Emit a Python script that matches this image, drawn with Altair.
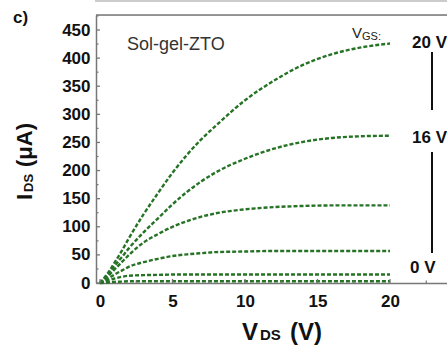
import altair as alt
import pandas as pd

# ---- data ----
vds = [0, 0.5, 1, 1.5, 2, 3, 4, 5, 6, 7, 8, 10, 12, 14, 16, 18, 20]
i_20 = [0, 16, 36, 57, 80, 122, 160, 196, 228, 256, 280, 325, 360, 388, 407, 419, 426]
i_16 = [0, 13, 30, 46, 62, 90, 115, 140, 162, 181, 197, 221, 239, 251, 258, 261, 262]
i_12 = [0, 11, 24, 37, 50, 72, 87, 100, 110, 118, 124, 131, 135, 137, 138, 138, 138]
i_8 = [0, 7, 15, 22, 29, 37, 43, 48, 51, 53, 55, 56, 57, 57, 57, 57, 57]
i_4 = [0, 4, 8, 11, 13, 14, 14.5, 15, 15, 15, 15, 15, 15, 15, 15, 15, 15]
i_0 = [0, 1, 2, 2.5, 3, 3, 3, 3, 3, 3, 3, 3, 3, 3, 3, 3, 3]
vgs_labels = ["20 V", "16 V", "12 V", "8 V", "4 V", "0 V"]
series = [i_20, i_16, i_12, i_8, i_4, i_0]

x_ticks = [0, 5, 10, 15, 20]
x_minor = [2.5, 7.5, 12.5, 17.5, 22.5]
y_ticks = [0, 50, 100, 150, 200, 250, 300, 350, 400, 450]
y_minor = [25, 75, 125, 175, 225, 275, 325, 375, 425, 475]

rows = []
for lab, ys in zip(vgs_labels, series):
    for x, y in zip(vds, ys):
        rows.append({"vds": x, "ids": y, "vgs": lab})
df = pd.DataFrame(rows)

W, H = 351, 268
FONT = "Liberation Sans"
GRAY = "#777777"
GREEN = "#267326"

xs = alt.Scale(domain=[-0.276, 23.93], nice=False, zero=False)
ys_ = alt.Scale(domain=[0, 476.7], nice=False, zero=False)

xaxis = alt.Axis(
    values=x_ticks, title=None, ticks=False, domainColor=GRAY, domainWidth=1.5,
    labelFont=FONT, labelFontSize=17, labelFontWeight="bold", labelColor="#111",
    labelPadding=10, grid=False, labelOverlap=False)
yaxis = alt.Axis(
    values=y_ticks, title=None, ticks=False, domainColor=GRAY, domainWidth=1.5,
    labelFont=FONT, labelFontSize=17, labelFontWeight="bold", labelColor="#111",
    labelPadding=6, grid=False, labelOverlap=False)

lines = alt.Chart(df).mark_line(
    color=GREEN, strokeWidth=2.4, strokeDash=[4, 2], interpolate="monotone"
).encode(
    x=alt.X("vds:Q", scale=xs, axis=xaxis, title=None),
    y=alt.Y("ids:Q", scale=ys_, axis=yaxis, title=None),
    detail="vgs:N",
)

xmaj = alt.Chart(pd.DataFrame({"v": x_ticks})).mark_rule(color=GRAY, strokeWidth=1.3).encode(
    x=alt.X("v:Q", scale=xs, axis=xaxis, title=None), y=alt.value(H), y2=alt.value(H - 4))
xmin = alt.Chart(pd.DataFrame({"v": x_minor})).mark_rule(color=GRAY, strokeWidth=1.2).encode(
    x=alt.X("v:Q", scale=xs, axis=xaxis, title=None), y=alt.value(H), y2=alt.value(H - 2.5))
ymaj = alt.Chart(pd.DataFrame({"v": y_ticks})).mark_rule(color=GRAY, strokeWidth=1.3).encode(
    y=alt.Y("v:Q", scale=ys_, axis=yaxis, title=None), x=alt.value(0), x2=alt.value(4))
ymin = alt.Chart(pd.DataFrame({"v": y_minor})).mark_rule(color=GRAY, strokeWidth=1.2).encode(
    y=alt.Y("v:Q", scale=ys_, axis=yaxis, title=None), x=alt.value(0), x2=alt.value(2.5))

top_line = alt.Chart(pd.DataFrame({"a": [0]})).mark_rule(color=GRAY, strokeWidth=1.5).encode(
    x=alt.value(0), x2=alt.value(W), y=alt.value(0))
outer_line = alt.Chart(pd.DataFrame({"a": [0]})).mark_rule(color="#999999", strokeWidth=1).encode(
    x=alt.value(-1), x2=alt.value(W), y=alt.value(-14))

bar1 = alt.Chart(pd.DataFrame({"a": [0]})).mark_rule(color="#111", strokeWidth=2).encode(
    x=alt.value(336), y=alt.value(37), y2=alt.value(95))
bar2 = alt.Chart(pd.DataFrame({"a": [0]})).mark_rule(color="#111", strokeWidth=2).encode(
    x=alt.value(336), y=alt.value(137), y2=alt.value(238))


def txt(t, x, y, size, weight="bold", color="#111", angle=0):
    return alt.Chart(pd.DataFrame({"t": [t]})).mark_text(
        font=FONT, fontSize=size, fontWeight=weight, color=color, align="left",
        baseline="alphabetic", angle=angle
    ).encode(text="t:N", x=alt.value(x), y=alt.value(y))


texts = [
    txt("20 V", 316, 33, 17),
    txt("16 V", 316, 128, 17),
    txt("0 V", 314, 258, 17),
    txt("V", 256, 23, 15, weight="normal", color="#222"),
    txt("GS:", 266, 25, 11, weight="normal", color="#222"),
    txt("Sol-gel-ZTO", 31, 35, 18, weight="normal", color="#333"),
    txt("c)", -83, 8, 17),
    txt("V", 146, 325, 24),
    txt("DS", 164, 325, 15),
    txt("(V)", 194, 325, 24),
    txt("I", -64, 185, 22, angle=270),
    txt("DS", -63, 177, 13, angle=270),
    txt("(μA)", -64, 152, 22, angle=270),
]

chart = alt.layer(
    lines, outer_line, top_line, xmaj, xmin, ymaj, ymin, bar1, bar2, *texts
).properties(
    width=W, height=H,
    autosize=alt.AutoSizeParams(type="none"),
    padding={"left": 96, "top": 15, "right": 0, "bottom": 65},
).configure_view(stroke=None).configure(background="white")

chart.save("out.html", embed_options={"renderer": "svg", "actions": False})
